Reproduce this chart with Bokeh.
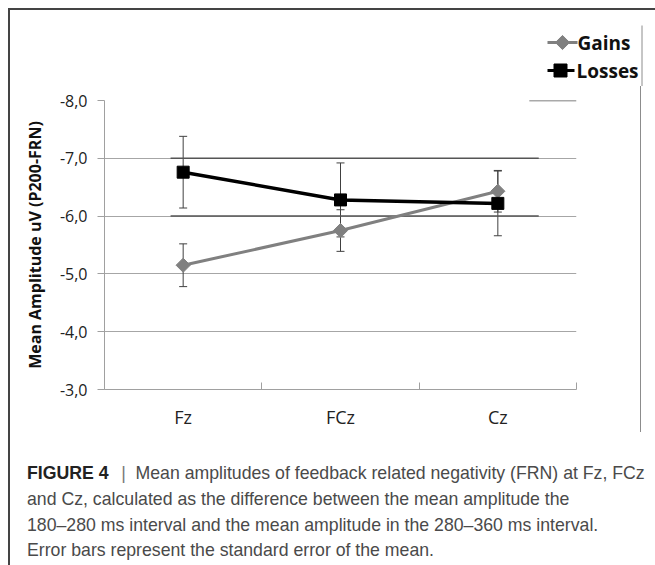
import numpy as np
from bokeh.plotting import figure
from bokeh.layouts import column
from bokeh.models import Range1d, FixedTicker, Whisker, TeeHead, ColumnDataSource
from bokeh.core.properties import value
from bokeh.embed import file_html
from bokeh.resources import INLINE

# ---------------- data ----------------
categories = ["Fz", "FCz", "Cz"]
series_names = ["Gains", "Losses"]
gains_mean = [-5.15, -5.75, -6.43]
gains_se = [0.37, 0.36, 0.36]
losses_mean = [-6.76, -6.28, -6.22]
losses_se = [0.62, 0.64, 0.56]
y_ticks = [-8, -7, -6, -5, -4, -3]
y_tick_labels = ["-8,0", "-7,0", "-6,0", "-5,0", "-4,0", "-3,0"]
y_title = "Mean Amplitude uV (P200-FRN)"
caption_head = "FIGURE 4"
caption_lines = [
    "Mean amplitudes of feedback related negativity (FRN) at Fz, FCz",
    "and Cz, calculated as the difference between the mean amplitude the",
    "180\u2013280 ms interval and the mean amplitude in the 280\u2013360 ms interval.",
    "Error bars represent the standard error of the mean.",
]

GAIN_COL = "#808080"
LOSS_COL = "#000000"
BORDER = "#444444"
RULE = "#8c8c8c"

# ---------------- picture geometry (px) ----------------
X_IN, X_END = 10, 655              # inside the outer border
Y_IN, Y_MID, Y_CAP, Y_END = 10, 86, 432, 565
CH_X1 = 641                        # right edge of chart figure (grey rule)
FRAME_L, FRAME_R, FRAME_T, FRAME_B = 104, 576, 100, 389


def blank(x0, x1, y0, y1):
    f = figure(width=x1 - x0, height=y1 - y0, x_range=Range1d(x0, x1),
               y_range=Range1d(y1, y0), x_axis_type=None, y_axis_type=None,
               min_border=0, toolbar_location=None, output_backend="svg", title=None,
               frame_align=False)
    f.outline_line_color = None
    f.background_fill_color = "white"
    f.border_fill_color = "white"
    return f


# ---------------- top strip: legend + rule ----------------
top = blank(X_IN, X_END, Y_IN, Y_MID)
top.segment(x0=[641.5], y0=[25], x1=[641.5], y1=[Y_MID], line_color=RULE, line_width=1)
leg_y = [42, 70]
top.segment(x0=[547, 547], x1=[577, 574], y0=leg_y, y1=leg_y,
            line_color=[GAIN_COL, LOSS_COL], line_width=3)
top.scatter(x=[562], y=[leg_y[0]], marker="square", angle=np.pi / 4, size=10,
            fill_color=GAIN_COL, line_color=GAIN_COL)
top.scatter(x=[560], y=[leg_y[1]], marker="square", size=13,
            fill_color=LOSS_COL, line_color=LOSS_COL)
top.text(x=[577, 576], y=leg_y, text=series_names, text_font=value("Open Sans"),
         text_font_style="bold", text_font_size="19px", text_color="#111111",
         text_baseline="middle")

# ---------------- chart ----------------
x = np.arange(len(categories)) + 0.5
cat_edges = list(np.arange(len(categories) + 1).astype(float))
W, H = CH_X1 - X_IN, Y_CAP - Y_MID

p = figure(width=W, height=H, x_range=Range1d(0, len(categories)), y_range=Range1d(-3, -8),
           output_backend="svg", toolbar_location=None, title=None, frame_align=False,
           min_border_left=FRAME_L - X_IN, min_border_right=CH_X1 - FRAME_R,
           min_border_top=FRAME_T - Y_MID, min_border_bottom=Y_CAP - FRAME_B,
           styles={"border-right": "1px solid " + RULE})
p.outline_line_color = None
p.background_fill_color = "white"
p.border_fill_color = "white"

xa = p.xaxis[0]
xa.ticker = FixedTicker(ticks=list(x), minor_ticks=cat_edges)
xa.major_label_overrides = {float(v): c for v, c in zip(x, categories)}
xa.major_tick_line_color = None
xa.major_tick_out = 0
xa.major_tick_in = 0
xa.minor_tick_in = 7
xa.minor_tick_out = 0
xa.minor_tick_line_color = "#a0a0a0"
xa.axis_line_color = "#a0a0a0"
xa.major_label_text_font = "Open Sans"
xa.major_label_text_font_size = "18px"
xa.major_label_text_color = "#222222"
xa.major_label_standoff = 15

ya = p.yaxis[0]
ya.ticker = FixedTicker(ticks=y_ticks, minor_ticks=[])
ya.major_label_overrides = dict(zip(y_ticks, y_tick_labels))
ya.major_tick_out = 7
ya.major_tick_in = 0
ya.major_tick_line_color = "#a0a0a0"
ya.minor_tick_line_color = None
ya.axis_line_color = "#a0a0a0"
ya.major_label_text_font = "Open Sans"
ya.major_label_text_font_size = "16px"
ya.major_label_text_color = "#222222"
ya.major_label_standoff = 10
ya.axis_label = y_title
ya.axis_label_text_font = "Open Sans"
ya.axis_label_text_font_style = "bold"
ya.axis_label_text_font_size = "16px"
ya.axis_label_text_color = "#111111"
ya.axis_label_standoff = 11

p.xgrid.visible = False
p.ygrid.ticker = FixedTicker(ticks=y_ticks, minor_ticks=[])
p.ygrid.grid_line_color = "#a6a6a6"
p.ygrid.grid_line_width = 1

# darker overlay segments seen on the original gridlines
p.segment(x0=[0.42, 0.42, 2.70], x1=[2.76, 2.76, 3.0], y0=[-7, -6, -8], y1=[-7, -6, -8],
          line_color="#555555", line_width=1.5)

for mean, se in ((gains_mean, gains_se), (losses_mean, losses_se)):
    m = np.array(mean)
    s = np.array(se)
    src = ColumnDataSource(dict(x=x, upper=m - s, lower=m + s))
    p.add_layout(Whisker(source=src, base="x", upper="upper", lower="lower",
                         line_color="#404040", line_width=1,
                         upper_head=TeeHead(size=8, line_color="#404040", line_width=1),
                         lower_head=TeeHead(size=8, line_color="#404040", line_width=1)))

p.line(x, gains_mean, line_color=GAIN_COL, line_width=3)
p.scatter(x, gains_mean, marker="square", angle=np.pi / 4, size=10,
          fill_color=GAIN_COL, line_color=GAIN_COL)
p.line(x, losses_mean, line_color=LOSS_COL, line_width=3.5)
p.scatter(x, losses_mean, marker="square", size=12, fill_color=LOSS_COL, line_color=LOSS_COL)

# ---------------- caption ----------------
cap = blank(X_IN, X_END, Y_CAP, Y_END)
line_ys = [472, 498, 524, 549]
cap_font = value("Liberation Sans")
cap_size = "17.7px"
cap.text(x=[26.5], y=[line_ys[0]], text=[caption_head], text_font=cap_font,
         text_font_style="bold", text_font_size=cap_size, text_color="#222222",
         text_baseline="middle")
cap.text(x=[123], y=[line_ys[0]], text=["|"], text_font=cap_font, text_font_size=cap_size,
         text_color="#777777", text_baseline="middle", text_align="center")
cap.text(x=[135] + [26.5] * 3, y=line_ys, text=caption_lines, text_font=cap_font,
         text_font_size=cap_size, text_color="#4a4a4a", text_baseline="middle")

layout = column(top, p, cap, spacing=0, margin=(8, 0, 0, 8),
                styles={"border-left": "2px solid " + BORDER,
                        "border-top": "2px solid " + BORDER})

open("out.html", "w").write(file_html(layout, INLINE))
